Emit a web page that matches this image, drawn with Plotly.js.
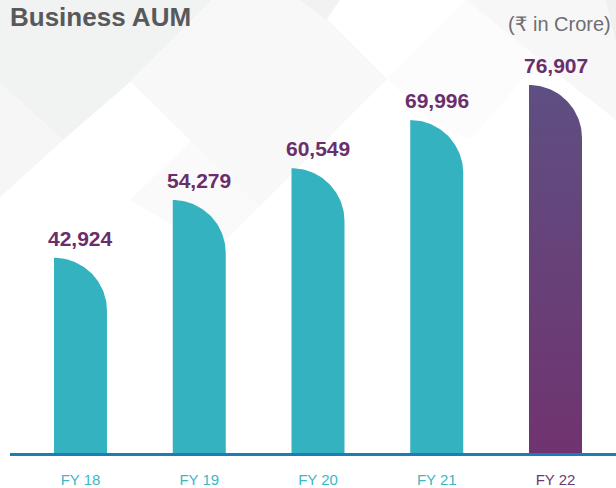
<!DOCTYPE html>
<html>
<head>
<meta charset="utf-8">
<script src="https://cdn.plot.ly/plotly-3.0.1.min.js"></script>
<style>html,body{margin:0;padding:0;background:#fff;}#chart{width:616px;height:488px;}</style>
</head>
<body>
<div id="chart"></div>
<script>
// ---- data ----
const categories = ["FY 18", "FY 19", "FY 20", "FY 21", "FY 22"];
const aumValues = [42924, 54279, 60549, 69996, 76907];
const valueLabels = ["42,924", "54,279", "60,549", "69,996", "76,907"];
const tickColors = ["#3db7c5", "#3db7c5", "#3db7c5", "#3db7c5", "#6e3a72"];
const unitNote = "(₹ in Crore)";
const chartTitle = "Business AUM";

// ---- geometry (layout) ----
const W = 616, H = 488;
const M = {l: 10, r: 0, t: 35, b: 35};
const plotW = W - M.l - M.r, plotH = H - M.t - M.b;
const xRange = [-0.5937, 4.5095];
const yRange = [4560, 86720];
const pxPerX = plotW / (xRange[1] - xRange[0]);
const pxPerY = plotH / (yRange[1] - yRange[0]);
const barPx = 53;
const barW = barPx / pxPerX;
const capRx = barW;
const capRy = barPx / pxPerY;

const teal = "#35b2c0";
const traces = [];
aumValues.forEach((v, i) => {
  const xl = i - barW / 2, xr = i + barW / 2;
  const xs = [xl, xl], ys = [yRange[0], v];
  const n = 40;
  for (let k = 1; k <= n; k++) {
    const t = (Math.PI / 2) * k / n;
    xs.push(xl + capRx * Math.sin(t));
    ys.push(v - capRy + capRy * Math.cos(t));
  }
  xs.push(xr, xl); ys.push(yRange[0], yRange[0]);
  const tr = {
    type: "scatter", mode: "lines", x: xs, y: ys, fill: "toself",
    line: {width: 0, color: "rgba(0,0,0,0)"}, hoverinfo: "skip", showlegend: false,
    fillcolor: teal
  };
  if (i === aumValues.length - 1) {
    tr.fillgradient = {type: "vertical", colorscale: [[0, "#703370"], [1, "#5e4f82"]]};
  }
  traces.push(tr);
});

// ---- background diamond pattern (decorative, pixel -> paper) ----
function P(px, py) { return ((px - M.l) / plotW).toFixed(4) + "," + ((H - M.b - py) / plotH).toFixed(4); }
function poly(pts) { return "M" + pts.map(p => P(p[0], p[1])).join(" L") + " Z"; }
const bgPolys = [
  {pts: [[0,0],[212,0],[130,82],[63,140],[0,83]], c: "#f1f2f2"},
  {pts: [[0,83],[63,140],[0,197]], c: "#f6f6f6"},
  {pts: [[130,81],[212,0],[308,0],[387,79],[259,207],[191,141]], c: "#f8f8f8"},
  {pts: [[191,141],[259,207],[215,251],[130,200]], c: "#fafafa"},
  {pts: [[300,0],[340,0],[326,20]], c: "#f2f2f2"},
  {pts: [[466,0],[606,0],[616,10],[616,120],[540,60]], c: "#f7f7f7"},
  {pts: [[606,0],[616,0],[616,43]], c: "#f0f0f0"},
  {pts: [[387,79],[466,0],[540,60],[470,140],[430,120]], c: "#fcfcfc"}
];
const shapes = bgPolys.map(b => ({
  type: "path", xref: "paper", yref: "paper", path: poly(b.pts),
  fillcolor: b.c, line: {width: 0}, layer: "below"
}));

const annotations = aumValues.map((v, i) => ({
  x: i, y: v, xref: "x", yref: "y", text: valueLabels[i], showarrow: false,
  xanchor: "center", yanchor: "bottom", yshift: 6,
  font: {family: "Liberation Sans, Arial, sans-serif", size: 21, weight: 700, color: "#6b2e6c"}
}));
annotations.push({
  xref: "paper", yref: "paper", x: (613 - M.l) / plotW, y: (H - M.b - 24) / plotH,
  xanchor: "right", yanchor: "middle", showarrow: false, text: unitNote,
  font: {family: "Liberation Sans, DejaVu Sans, Arial, sans-serif", size: 20, color: "#6d6e71"}
});

const layout = {
  width: W, height: H, margin: M,
  paper_bgcolor: "#ffffff", plot_bgcolor: "rgba(0,0,0,0)",
  title: {
    text: chartTitle, x: 10 / W, xanchor: "left", xref: "container",
    y: 1 - 17 / H, yanchor: "middle", yref: "container",
    font: {family: "Liberation Sans, Arial, sans-serif", size: 26, weight: 700, color: "#58595b"}
  },
  xaxis: {
    range: xRange, tickvals: categories.map((c, i) => i),
    ticktext: categories.map((c, i) => '<span style="color:' + tickColors[i] + '">' + c + '</span>'),
    showgrid: false, zeroline: false, showline: true, linecolor: "#1a7db6", linewidth: 3,
    ticks: "", ticklabelstandoff: 11,
    tickfont: {family: "Liberation Sans, Arial, sans-serif", size: 15, color: "#3db7c5"},
    fixedrange: true
  },
  yaxis: {range: yRange, visible: false, showgrid: false, zeroline: false, fixedrange: true},
  shapes: shapes, annotations: annotations, showlegend: false
};

Plotly.newPlot("chart", traces, layout, {displayModeBar: false, staticPlot: true});
</script>
</body>
</html>
